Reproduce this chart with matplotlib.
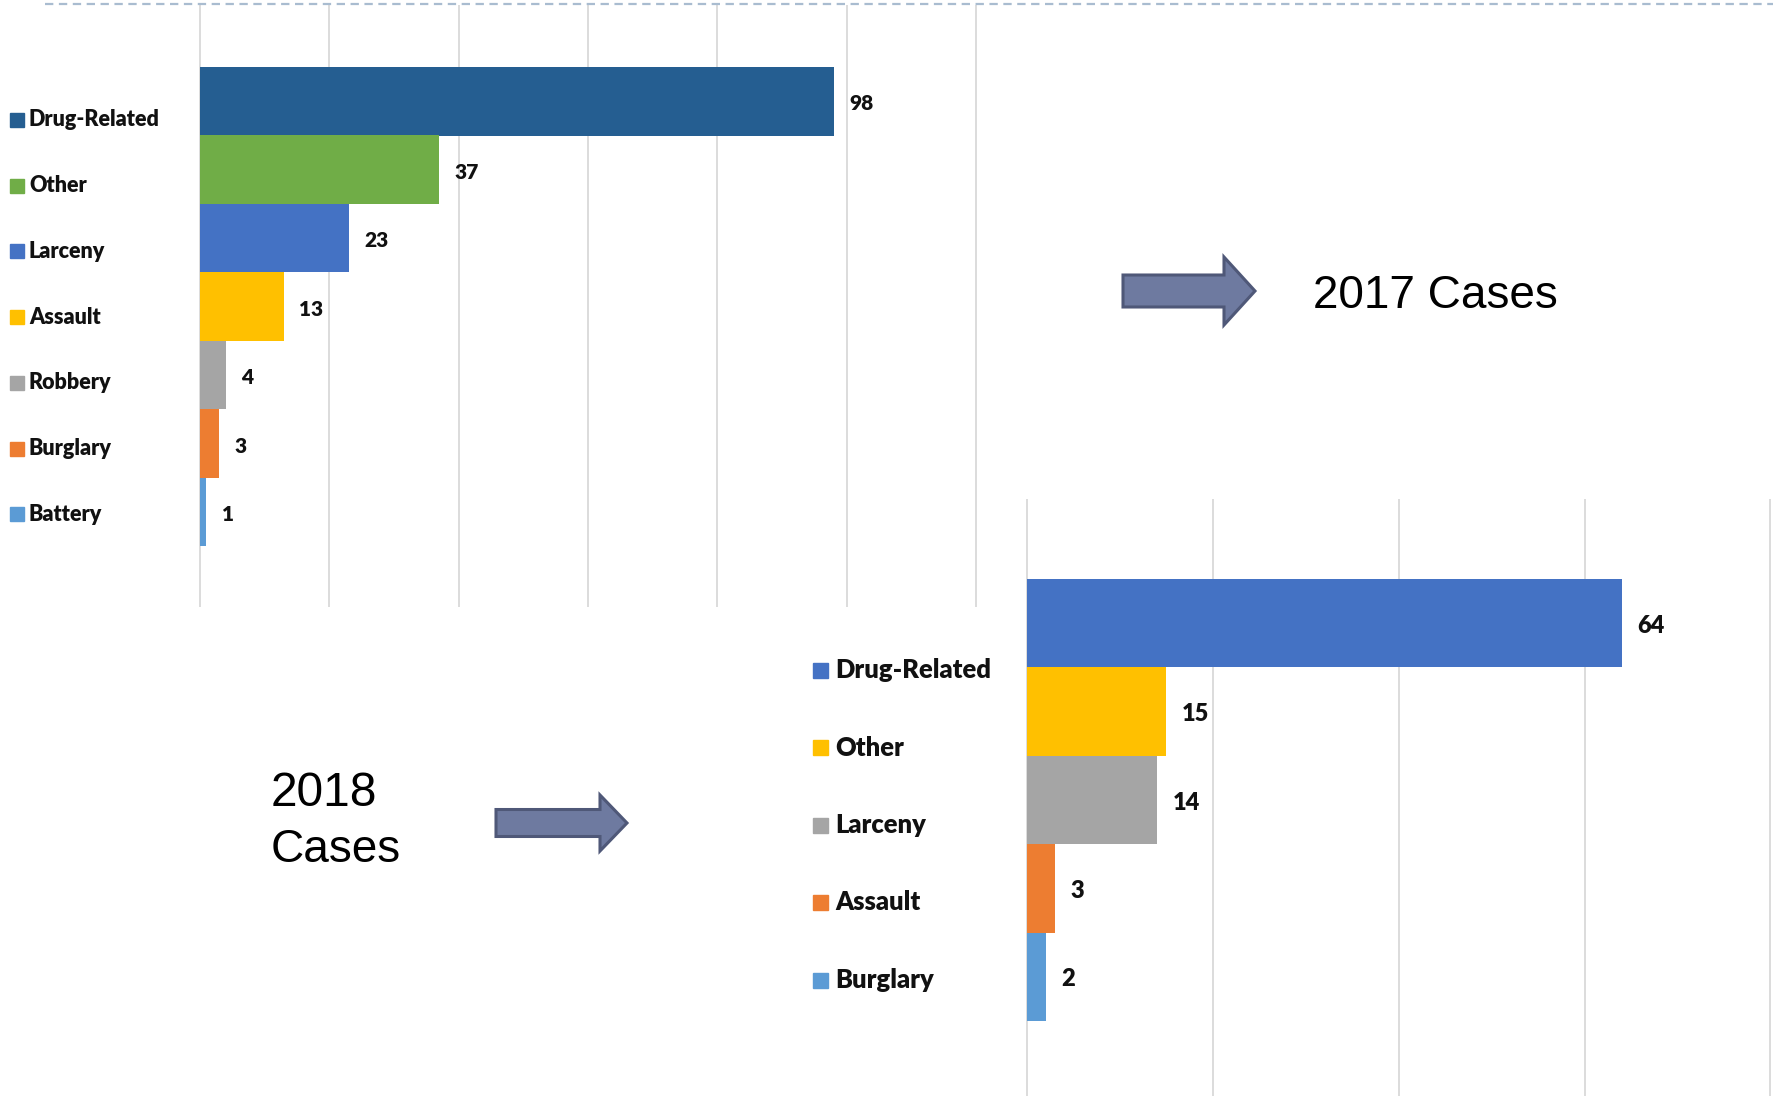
import matplotlib.pyplot as plt
from matplotlib.patches import Polygon, Rectangle
from matplotlib.lines import Line2D

plt.rcParams['lines.scale_dashes'] = False

W, H = 1773, 1096
DPI = 100

# 2017 cases
cats_2017 = ['Drug-Related', 'Other', 'Larceny', 'Assault', 'Robbery', 'Burglary', 'Battery']
vals_2017 = [98, 37, 23, 13, 4, 3, 1]
colors_2017 = ['#255E91', '#70AD47', '#4472C4', '#FFC000', '#A5A5A5', '#ED7D31', '#5B9BD5']

# 2018 cases
cats_2018 = ['Drug-Related', 'Other', 'Larceny', 'Assault', 'Burglary']
vals_2018 = [64, 15, 14, 3, 2]
colors_2018 = ['#4472C4', '#FFC000', '#A5A5A5', '#ED7D31', '#5B9BD5']

LBL_FONT = 'Lato'
LBL_WEIGHT = 'heavy'
GRID = '#D9D9D9'

fig = plt.figure(figsize=(W / DPI, H / DPI), dpi=DPI)


def fx(x):
    return x / W


def fy(y):
    return 1 - y / H


def bar_panel(cats, vals, colors, left, x_scale, xmax, top, bottom,
              bar_top, cat_h, lbl_size):
    '''horizontal bar panel placed in pixel coords of the figure'''
    x0 = -0.5
    right = left + (xmax - x0) * x_scale
    ax = fig.add_axes([fx(left + x0 * x_scale), fy(bottom),
                       (right - left - x0 * x_scale) / W, (bottom - top) / H])
    n = len(cats)
    y = list(range(n))
    ax.barh(y, vals, height=1.0, color=colors, zorder=2)
    ax.set_xlim(x0, xmax)
    ax.set_ylim(n - 0.5 + (bottom - (bar_top + n * cat_h)) / cat_h,
                -0.5 - (bar_top - top) / cat_h)
    ax.set_xticks(range(0, int(xmax) + 1, 20))
    ax.xaxis.grid(True, color=GRID, lw=1.3)
    ax.set_axisbelow(True)
    ax.tick_params(length=0, labelbottom=False, labelleft=False)
    for s in ax.spines.values():
        s.set_visible(False)
    ax.patch.set_alpha(0)
    for i, v in enumerate(vals):
        ax.annotate(str(v), (v, i), xytext=(11, -1.8), textcoords='offset points',
                    va='center', ha='left', fontsize=lbl_size,
                    fontweight=LBL_WEIGHT, family=LBL_FONT, color='#111111')
    return ax


def legend(cats, colors, x_sq, sq, x_txt, y0, step, size):
    for i, (c, col) in enumerate(zip(cats, colors)):
        yc = y0 + i * step
        fig.patches.append(Rectangle((fx(x_sq), fy(yc + sq / 2)), sq / W, sq / H,
                                     transform=fig.transFigure, color=col))
        fig.text(fx(x_txt), fy(yc), c, fontsize=size, fontweight=LBL_WEIGHT,
                 family=LBL_FONT, va='center', ha='left', color='#111111')


def arrow(x0, xh, tip, yc, bh, hh):
    pts = [(x0, yc - bh), (xh, yc - bh), (xh, yc - hh), (tip, yc),
           (xh, yc + hh), (xh, yc + bh), (x0, yc + bh)]
    fig.patches.append(Polygon([(fx(a), fy(b)) for a, b in pts], closed=True,
                               transform=fig.transFigure, facecolor='#6E7AA0',
                               edgecolor='#4F5878', lw=2.2, joinstyle='miter'))


# dashed border along the top
fig.lines.append(Line2D([fx(45), fx(W)], [fy(4), fy(4)], transform=fig.transFigure,
                        color='#A9BCD0', lw=1.6, dashes=(6, 4)))

bar_panel(cats_2017, vals_2017, colors_2017, left=200, x_scale=6.44, xmax=121.0,
          top=5, bottom=607, bar_top=67, cat_h=68.5, lbl_size=15)
legend(cats_2017, colors_2017, x_sq=10, sq=14, x_txt=29, y0=120, step=65.7, size=15.5)

bar_panel(cats_2018, vals_2018, colors_2018, left=1027, x_scale=9.235, xmax=80.78,
          top=499, bottom=1096, bar_top=579, cat_h=88.4, lbl_size=17)
legend(cats_2018, colors_2018, x_sq=813, sq=15, x_txt=835, y0=670, step=77.5, size=18.4)

arrow(1123, 1224, 1255, 291, 16, 34)
arrow(496, 600, 627, 823, 13.5, 28)

fig.text(fx(1313), fy(308), '2017 Cases', fontsize=33, va='baseline', ha='left',
         family='Liberation Sans', color='black')
fig.text(fx(271), fy(806), '2018', fontsize=34.5, va='baseline', ha='left',
         family='Liberation Sans', color='black')
fig.text(fx(271), fy(862), 'Cases', fontsize=33, va='baseline', ha='left',
         family='Liberation Sans', color='black')

fig.savefig('out.png', dpi=DPI, facecolor='white')
